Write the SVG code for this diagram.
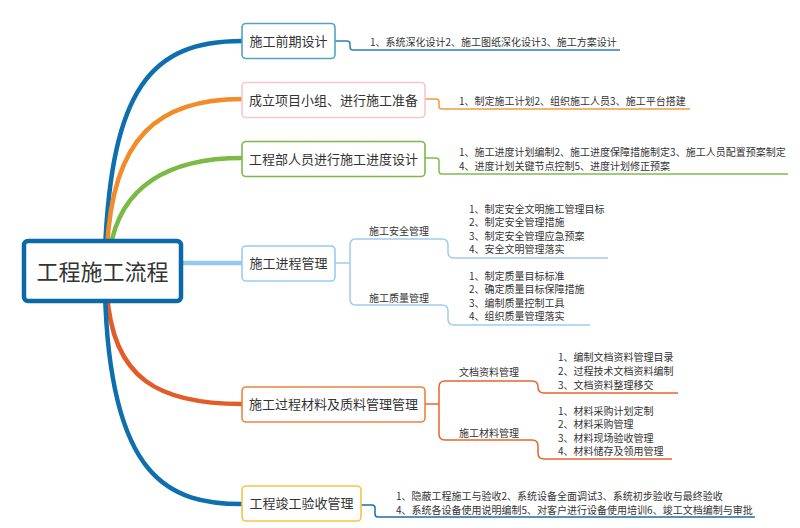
<svg xmlns="http://www.w3.org/2000/svg" width="800" height="528" viewBox="0 0 800 528">
<style>
text{font-family:"Noto Sans CJK SC","Noto Sans",sans-serif;fill:#333}
.n{font-size:13px;text-anchor:middle}
.s{font-size:10px}
.box{fill:#fff;stroke-width:1.6}
.c{fill:none;stroke-linecap:round}
.t{stroke-width:1.5;fill:none}
</style>
<rect width="800" height="528" fill="#fff"/>
<g id="connectors">
<path class="c" d="M105,250 C112,90 150,41 242,41" stroke="#0E6FAE" stroke-width="4.5"/>
<path class="c" d="M107,250 C112,135 160,99 242,99" stroke="#F28C28" stroke-width="4.5"/>
<path class="c" d="M110,250 C120,185 170,158 242,158" stroke="#7BBA45" stroke-width="4.5"/>
<path class="c" d="M182,263 H242" stroke="#93C8F0" stroke-width="4.5"/>
<path class="c" d="M107,292 C112,380 160,404 242,404" stroke="#E35C27" stroke-width="4.5"/>
<path class="c" d="M105,292 C110,480 170,504 242,504" stroke="#0E6FAE" stroke-width="4.5"/>
<path class="t" stroke="#2A7FB8" d="M335,41 H347 Q350,41 350,44 V47 Q350,50 353,50 H620"/>
<path class="t" stroke="#F39A3C" d="M425,99 H436 Q439,99 439,102 V106 Q439,109 442,109 H690"/>
<path class="t" stroke="#80BC4E" d="M425,158 H436 Q439,158 439,161 V171 Q439,174 442,174 H788"/>
<path class="t" stroke="#9FCDF0" d="M335,263 H350 M356,239 Q350,239 350,245 V299 Q350,305 356,305 M356,239 H442 Q448,239 448,245 V252 Q448,258 454,258 H608 M356,305 H442 Q448,305 448,311 V319 Q448,325 454,325 H590"/>
<path class="t" stroke="#E8642C" d="M425,404 H439 M445,381 Q439,381 439,387 V434 Q439,440 445,440 M445,381 H532 Q538,381 538,387 V387 Q538,393 544,393 H678 M445,440 H532 Q538,440 538,446 V453 Q538,459 544,459 H672"/>
<path class="t" stroke="#1B6FA8" d="M361,505 H372 Q375,505 375,508 V514 Q375,517 378,517 H755"/>
</g>
<g id="root">
<rect x="24" y="241" width="157" height="60" rx="4" fill="#fff" stroke="#0B6AA6" stroke-width="4.5"/>
<text x="102.5" y="279.5" style="font-size:22px;text-anchor:middle">工程施工流程</text>
</g>
<g id="n1">
<rect class="box" x="242" y="23.5" width="93" height="35" rx="4" stroke="#4FA3C4"/>
<text class="n" x="288.5" y="45.5">施工前期设计</text>
<text class="s" x="370" y="45.5">1、系统深化设计2、施工图纸深化设计3、施工方案设计</text>
</g>
<g id="n2">
<rect class="box" x="242" y="82.5" width="183" height="35" rx="4" stroke="#F8C6CC"/>
<text class="n" x="333.5" y="104.5">成立项目小组、进行施工准备</text>
<text class="s" x="459" y="104.5">1、制定施工计划2、组织施工人员3、施工平台搭建</text>
</g>
<g id="n3">
<rect class="box" x="242" y="141.5" width="183" height="35" rx="4" stroke="#7CB84B"/>
<text class="n" x="333.5" y="163.5">工程部人员进行施工进度设计</text>
<text class="s" x="459" y="156">1、施工进度计划编制2、施工进度保障措施制定3、施工人员配置预案制定</text>
<text class="s" x="459" y="169.6">4、进度计划关键节点控制5、进度计划修正预案</text>
</g>
<g id="n4">
<rect class="box" x="242" y="246" width="93" height="35" rx="4" stroke="#9BCBF2"/>
<text class="n" x="288.5" y="268">施工进程管理</text>
<text class="s" x="369" y="234.5">施工安全管理</text>
<text class="s" x="469" y="212.5">1、制定安全文明施工管理目标</text>
<text class="s" x="469" y="226">2、制定安全管理措施</text>
<text class="s" x="469" y="239.5">3、制定安全管理应急预案</text>
<text class="s" x="469" y="253">4、安全文明管理落实</text>
<text class="s" x="369" y="301.5">施工质量管理</text>
<text class="s" x="469" y="279.5">1、制定质量目标标准</text>
<text class="s" x="469" y="293">2、确定质量目标保障措施</text>
<text class="s" x="469" y="306.5">3、编制质量控制工具</text>
<text class="s" x="469" y="320">4、组织质量管理落实</text>
</g>
<g id="n5">
<rect class="box" x="242" y="387" width="183" height="35" rx="4" stroke="#E9843E"/>
<text class="n" x="333.5" y="409">施工过程材料及质料管理管理</text>
<text class="s" x="459" y="375.5">文档资料管理</text>
<text class="s" x="558" y="360.5">1、编制文档资料管理目录</text>
<text class="s" x="558" y="374.5">2、过程技术文档资料编制</text>
<text class="s" x="558" y="388.5">3、文档资料整理移交</text>
<text class="s" x="459" y="436.5">施工材料管理</text>
<text class="s" x="558" y="414.5">1、材料采购计划定制</text>
<text class="s" x="558" y="428">2、材料采购管理</text>
<text class="s" x="558" y="441.5">3、材料现场验收管理</text>
<text class="s" x="558" y="455">4、材料储存及领用管理</text>
</g>
<g id="n6">
<rect class="box" x="242" y="486" width="119" height="35" rx="4" stroke="#F6C445"/>
<text class="n" x="301.5" y="508">工程竣工验收管理</text>
<text class="s" x="396" y="500">1、隐蔽工程施工与验收2、系统设备全面调试3、系统初步验收与最终验收</text>
<text class="s" x="396" y="513.6">4、系统各设备使用说明编制5、对客户进行设备使用培训6、竣工文档编制与审批</text>
</g>
</svg>
